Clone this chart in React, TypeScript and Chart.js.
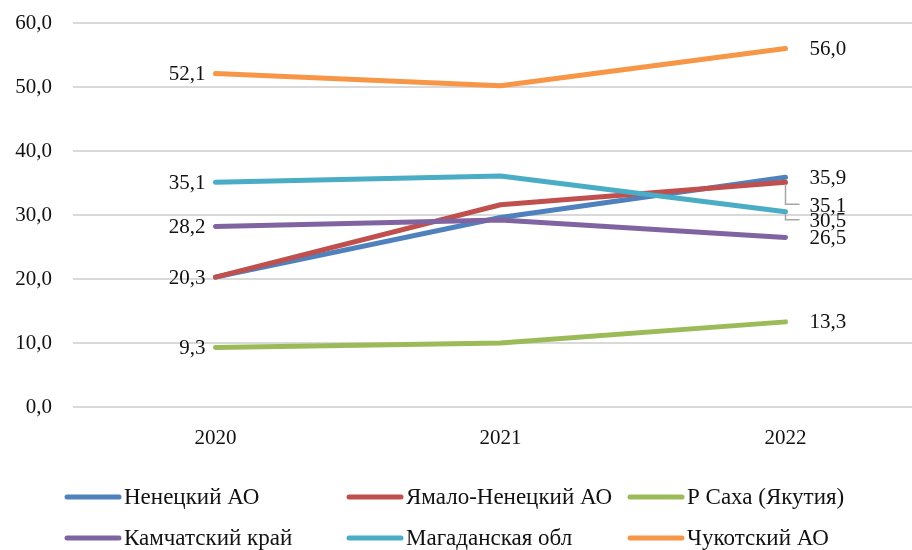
import React, { useEffect, useRef } from "react";
import { Chart, registerables } from "chart.js";

Chart.register(...registerables);

const years = ["2020", "2021", "2022"];
const seriesNames = [
  "Ненецкий АО",
  "Ямало-Ненецкий АО",
  "Р Саха (Якутия)",
  "Камчатский край",
  "Магаданская обл",
  "Чукотский АО",
];
const nenets = [20.3, 29.6, 35.9];
const yamal = [20.3, 31.6, 35.1];
const sakha = [9.3, 10.0, 13.3];
const kamchatka = [28.2, 29.2, 26.5];
const magadan = [35.1, 36.1, 30.5];
const chukotka = [52.1, 50.2, 56.0];
const seriesColors = ["#4F81BD", "#C0504D", "#9BBB59", "#8064A2", "#4BACC6", "#F79646"];
// which points carry a data label
const nenetsLabels = [false, false, true];
const yamalLabels = [true, false, true];
const sakhaLabels = [true, false, true];
const kamchatkaLabels = [true, false, true];
const magadanLabels = [true, false, true];
const chukotkaLabels = [true, false, true];
const yMin = 0;
const yMax = 60;
const yStep = 10;

const allValues = [nenets, yamal, sakha, kamchatka, magadan, chukotka];
const allLabels = [nenetsLabels, yamalLabels, sakhaLabels, kamchatkaLabels, magadanLabels, chukotkaLabels];

const FONT = "'Liberation Serif', 'Times New Roman', serif";
const fmt = (v: number) => v.toFixed(1).replace(".", ",");

const labelPlugin = {
  id: "excelLabels",
  afterDatasetsDraw(chart: any) {
    const ctx = chart.ctx;
    ctx.save();
    ctx.font = `21px ${FONT}`;
    ctx.fillStyle = "#111";
    ctx.textBaseline = "middle";
    allValues.forEach((vals, si) => {
      const meta = chart.getDatasetMeta(si);
      vals.forEach((v, i) => {
        if (!allLabels[si][i]) return;
        const pt = meta.data[i];
        let x = pt.x;
        let y = pt.y;
        if (i === 0) {
          ctx.textAlign = "right";
          x -= 10;
        } else {
          ctx.textAlign = "left";
          x += 24;
        }
        let dy = 0;
        if (i === 2 && si === 1) dy = 23;
        if (i === 2 && si === 4) dy = 9;
        if (dy) {
          ctx.save();
          ctx.strokeStyle = "#a6a6a6";
          ctx.lineWidth = 1.5;
          ctx.beginPath();
          ctx.moveTo(pt.x, pt.y + 2);
          ctx.lineTo(pt.x, pt.y + dy - 1);
          ctx.lineTo(pt.x + 14, pt.y + dy - 1);
          ctx.stroke();
          ctx.restore();
        }
        ctx.fillText(fmt(v), x, y + dy + 1);
      });
    });
    ctx.restore();
  },
  afterDraw(chart: any) {
    const ctx = chart.ctx;
    ctx.save();
    const cols = [65, 347, 628];
    const rows = [497, 538];
    ctx.font = `23px ${FONT}`;
    ctx.fillStyle = "#111";
    ctx.textBaseline = "middle";
    ctx.textAlign = "left";
    seriesNames.forEach((name, i) => {
      const x = cols[i % 3];
      const y = rows[Math.floor(i / 3)];
      ctx.strokeStyle = seriesColors[i];
      ctx.lineWidth = 5;
      ctx.lineCap = "round";
      ctx.beginPath();
      ctx.moveTo(x + 2, y);
      ctx.lineTo(x + 54, y);
      ctx.stroke();
      ctx.fillText(name, x + 59, y + 1);
    });
    ctx.restore();
  },
};

export default function App() {
  const ref = useRef<HTMLCanvasElement>(null);
  useEffect(() => {
    if (!ref.current) return;
    const chart = new Chart(ref.current, {
      type: "line",
      data: {
        labels: years,
        datasets: allValues.map((vals, i) => ({
          label: seriesNames[i],
          data: vals,
          borderColor: seriesColors[i],
          backgroundColor: seriesColors[i],
          borderWidth: 5,
          pointRadius: 0,
          tension: 0,
          borderCapStyle: "round" as const,
          borderJoinStyle: "round" as const,
          order: allValues.length - i,
        })),
      },
      options: {
        responsive: false,
        animation: false,
        layout: { padding: { top: 23, right: 12, left: 0, bottom: 0 } },
        plugins: { legend: { display: false }, tooltip: { enabled: false } },
        scales: {
          x: {
            type: "category",
            offset: true,
            grid: { display: false },
            border: { display: false },
            ticks: { color: "#111", font: { family: FONT, size: 21 }, padding: 11 },
            afterFit: (s: any) => {
              s.height = 143;
            },
          },
          y: {
            min: yMin,
            max: yMax,
            grid: { color: "#d9d9d9", lineWidth: 2, drawTicks: false },
            border: { display: false },
            ticks: {
              stepSize: yStep,
              color: "#111",
              font: { family: FONT, size: 21 },
              padding: 21,
              callback: (v: any) => fmt(Number(v)),
            },
            afterFit: (s: any) => {
              s.width = 73;
              s.paddingTop = 0;
              s.paddingBottom = 0;
            },
          },
        },
      },
      plugins: [labelPlugin],
    });
    return () => chart.destroy();
  }, []);
  return (
    <div
      style={{
        position: "fixed",
        left: 0,
        top: 0,
        width: 912,
        height: 550,
        overflow: "hidden",
        background: "#fff",
      }}
    >
      <canvas ref={ref} width={940} height={550} style={{ display: "block" }} />
    </div>
  );
}
